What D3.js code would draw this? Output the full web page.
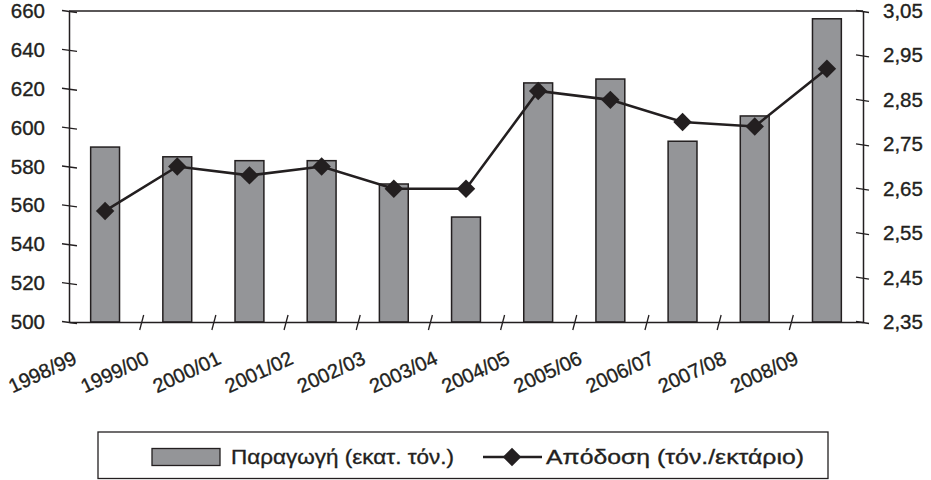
<!DOCTYPE html>
<html>
<head>
<meta charset="utf-8">
<script src="https://cdn.jsdelivr.net/npm/d3@7"></script>
<style>
  html, body { margin: 0; padding: 0; background: #fff; }
  svg { display: block; }
  text { font-family: "Liberation Sans", Arial, Helvetica, sans-serif; fill: #231f20; stroke: #231f20; stroke-width: 0.35px; }
</style>
</head>
<body>
<svg id="chart" width="931" height="480"></svg>
<script>
const categories = ["1998/99","1999/00","2000/01","2001/02","2002/03","2003/04","2004/05","2005/06","2006/07","2007/08","2008/09"];
const production = [590, 585, 583, 583, 571, 554, 623, 625, 593, 606, 656];
const yieldValues = [2.60, 2.70, 2.68, 2.70, 2.65, 2.65, 2.87, 2.85, 2.80, 2.79, 2.92];
const leftTicks = [500, 520, 540, 560, 580, 600, 620, 640, 660];
const rightTicks = [2.35, 2.45, 2.55, 2.65, 2.75, 2.85, 2.95, 3.05];
const legendLabels = ["Παραγωγή (εκατ. τόν.)", "Απόδοση (τόν./εκτάριο)"];

const ink = "#231f20";
const barFill = "#949598";
const fsTick = 20.5;
const fsCat = 20;
const fsLeg = 21;

const svg = d3.select("#chart");
svg.append("rect").attr("width", 931).attr("height", 480).attr("fill", "#fff");

const plotL = 69, plotR = 863, plotT = 11, plotB = 322;

const x = d3.scaleBand().domain(categories).range([plotL, plotR]).padding(0);
const xIdx = d3.scaleLinear().domain([0, categories.length]).range([plotL, plotR]);
const yL = d3.scaleLinear().domain([500, 660]).range([plotB, plotT]);
const yR = d3.scaleLinear().domain([2.35, 3.05]).range([plotB, plotT]);

const gr = d3.formatLocale({decimal: ",", thousands: ".", grouping: [3], currency: ["", "€"]});
const fmtR = gr.format(".2f");

// bars
const barW = x.bandwidth() * 0.4;
svg.append("g").selectAll("rect").data(production).join("rect")
  .attr("x", (d, i) => x(categories[i]) + x.bandwidth() / 2 - barW / 2)
  .attr("y", d => yL(d))
  .attr("width", barW)
  .attr("height", d => yL(500) - yL(d))
  .attr("fill", barFill)
  .attr("stroke", ink)
  .attr("stroke-width", 1.5);

// top frame
svg.append("line").attr("x1", plotL).attr("x2", plotR).attr("y1", plotT).attr("y2", plotT)
  .attr("stroke", ink).attr("stroke-width", 1.5);

// left axis
const gL = svg.append("g").attr("transform", `translate(${plotL},0)`)
  .call(d3.axisLeft(yL).tickValues(leftTicks).tickSize(0).tickPadding(24).tickFormat(d3.format("d")));
gL.select(".domain").attr("stroke", ink).attr("stroke-width", 1.5);
gL.selectAll(".tick line").attr("x1", -7).attr("x2", 8).attr("y1", -1).attr("y2", 1).attr("stroke", ink).attr("stroke-width", 1.3);
gL.selectAll(".tick text").attr("font-size", fsTick).attr("fill", ink);

// right axis
const gR = svg.append("g").attr("transform", `translate(${plotR},0)`)
  .call(d3.axisRight(yR).tickValues(rightTicks).tickSize(0).tickPadding(20).tickFormat(fmtR));
gR.select(".domain").attr("stroke", ink).attr("stroke-width", 1.5);
gR.selectAll(".tick line").attr("x1", -7).attr("x2", 6).attr("y1", -1).attr("y2", 1).attr("stroke", ink).attr("stroke-width", 1.3);
gR.selectAll(".tick text").attr("font-size", fsTick).attr("fill", ink);

// bottom axis
const bTicks = d3.range(1, categories.length);
const gB = svg.append("g").attr("transform", `translate(0,${plotB})`)
  .call(d3.axisBottom(xIdx).tickValues(bTicks).tickSize(0).tickFormat(""));
gB.select(".domain").attr("stroke", ink).attr("stroke-width", 1.5);
gB.selectAll(".tick line").attr("x1", -2).attr("x2", 2).attr("y1", 8).attr("y2", -7).attr("stroke", ink).attr("stroke-width", 1.3);

// x labels
svg.append("g").selectAll("text").data(categories).join("text")
  .attr("transform", d => `translate(${x(d) + x.bandwidth() / 2 - 27},${plotB + 41}) rotate(-25)`)
  .attr("text-anchor", "end")
  .attr("font-size", fsCat)
  .text(d => d);

// line
const line = d3.line()
  .x((d, i) => x(categories[i]) + x.bandwidth() / 2)
  .y(d => yR(d));
svg.append("path").datum(yieldValues).attr("d", line)
  .attr("fill", "none").attr("stroke", ink).attr("stroke-width", 2.6);

const diamond = d3.symbol().type(d3.symbolSquare).size(170);
svg.append("g").selectAll("path").data(yieldValues).join("path")
  .attr("d", diamond)
  .attr("transform", (d, i) => `translate(${x(categories[i]) + x.bandwidth() / 2},${yR(d)}) rotate(45)`)
  .attr("fill", ink);

// legend
const lg = svg.append("g");
lg.append("rect").attr("x", 98).attr("y", 432).attr("width", 730).attr("height", 46.5)
  .attr("fill", "#fff").attr("stroke", ink).attr("stroke-width", 1.3);
lg.append("rect").attr("x", 152).attr("y", 448.5).attr("width", 68).attr("height", 17)
  .attr("fill", barFill).attr("stroke", ink).attr("stroke-width", 1.3);
lg.append("text").attr("x", 231).attr("y", 464).attr("font-size", fsLeg)
  .attr("textLength", 223).attr("lengthAdjust", "spacingAndGlyphs").text(legendLabels[0]);
lg.append("line").attr("x1", 483).attr("x2", 542).attr("y1", 457).attr("y2", 457)
  .attr("stroke", ink).attr("stroke-width", 2.6);
lg.append("path").attr("d", diamond).attr("transform", "translate(512,457) rotate(45)").attr("fill", ink);
lg.append("text").attr("x", 546).attr("y", 464).attr("font-size", fsLeg)
  .attr("textLength", 258).attr("lengthAdjust", "spacingAndGlyphs").text(legendLabels[1]);
</script>
</body>
</html>
